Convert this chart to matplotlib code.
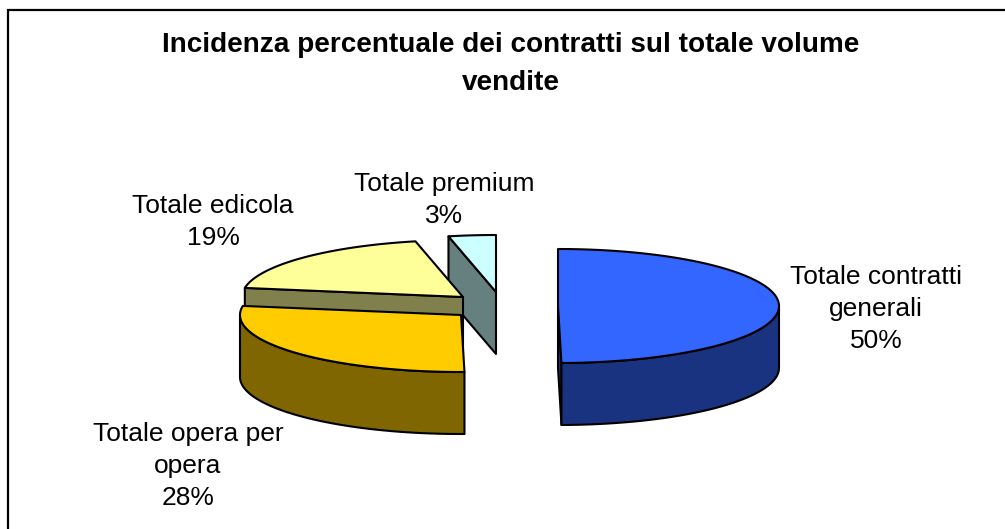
import numpy as np
import matplotlib
matplotlib.use("Agg")
import matplotlib.pyplot as plt
from matplotlib.patches import Polygon, Rectangle

plt.rcParams['font.family'] = ['Liberation Sans', 'DejaVu Sans']

# slice data, clockwise from 12 o'clock
categories = ['Totale contratti\ngenerali', 'Totale opera per\nopera', 'Totale edicola', 'Totale premium']
shares = [49.75, 27.8, 19.0, 3.45]
title = 'Incidenza percentuale dei contratti sul totale volume\nvendite'

top_colors = ['#3366FF', '#FFCC00', '#FFFF99', '#CCFFFF']
side_colors = ['#1A3380', '#806600', '#80804D', '#668080']

# exploded apex of each slice, in pixels
apex = [(558, 306), (461, 315), (463, 297), (496, 292)]
label_pos = [(876, 309), (188, 466), (213, 222), (444, 200)]

RX = 221
RY = 57
DEPTH = 62
EDGE = 1.5


def rim_point(center, deg):
    t = np.radians(deg)
    return center[0] + RX * np.sin(t), center[1] - RY * np.cos(t)


def arc_points(center, a0, a1):
    t = np.linspace(a0, a1, max(int(abs(a1 - a0) * 2), 2))
    return [rim_point(center, d) for d in t]


def draw_slice(ax, center, a0, a1, top, side):
    # end faces which look at the viewer
    for deg, visible in ((a0, np.sin(np.radians(a0)) < -1e-6), (a1, np.sin(np.radians(a1)) > 1e-6)):
        if visible:
            x, y = rim_point(center, deg)
            face = [center, (x, y), (x, y + DEPTH), (center[0], center[1] + DEPTH)]
            ax.add_patch(Polygon(face, closed=True, fc=side, ec='black', lw=EDGE, joinstyle='round'))
    # outer wall, only the front half of the ellipse
    lo, hi = max(a0, 90), min(a1, 270)
    if lo < hi:
        upper = arc_points(center, lo, hi)
        lower = [(x, y + DEPTH) for x, y in reversed(upper)]
        ax.add_patch(Polygon(upper + lower, closed=True, fc=side, ec='black', lw=EDGE, joinstyle='round'))
    ax.add_patch(Polygon([center] + arc_points(center, a0, a1), closed=True, fc=top, ec='black', lw=EDGE, joinstyle='round'))


fig = plt.figure(figsize=(10.05, 5.29), dpi=100)
ax = fig.add_axes([0, 0, 1, 1])
ax.set_xlim(0, 1005)
ax.set_ylim(529, 0)
ax.axis('off')

ax.add_patch(Rectangle((8, 10), 1200, 700, fc='white', ec='black', lw=1.6))

total = sum(shares)
edges = np.concatenate([[0], np.cumsum(shares)]) / total * 360

# back slices go first
for i in [3, 2, 1, 0]:
    draw_slice(ax, apex[i], edges[i], edges[i + 1], top_colors[i], side_colors[i])

for i in range(len(categories)):
    pct = round(shares[i] / total * 100)
    ax.text(label_pos[i][0], label_pos[i][1], '%s\n%d%%' % (categories[i], pct),
            ha='center', va='center', fontsize=19, linespacing=1.42)

ax.text(511, 64, title, ha='center', va='center', fontsize=20.1, fontweight='bold', linespacing=1.58)

fig.savefig('out.png', dpi=100)
